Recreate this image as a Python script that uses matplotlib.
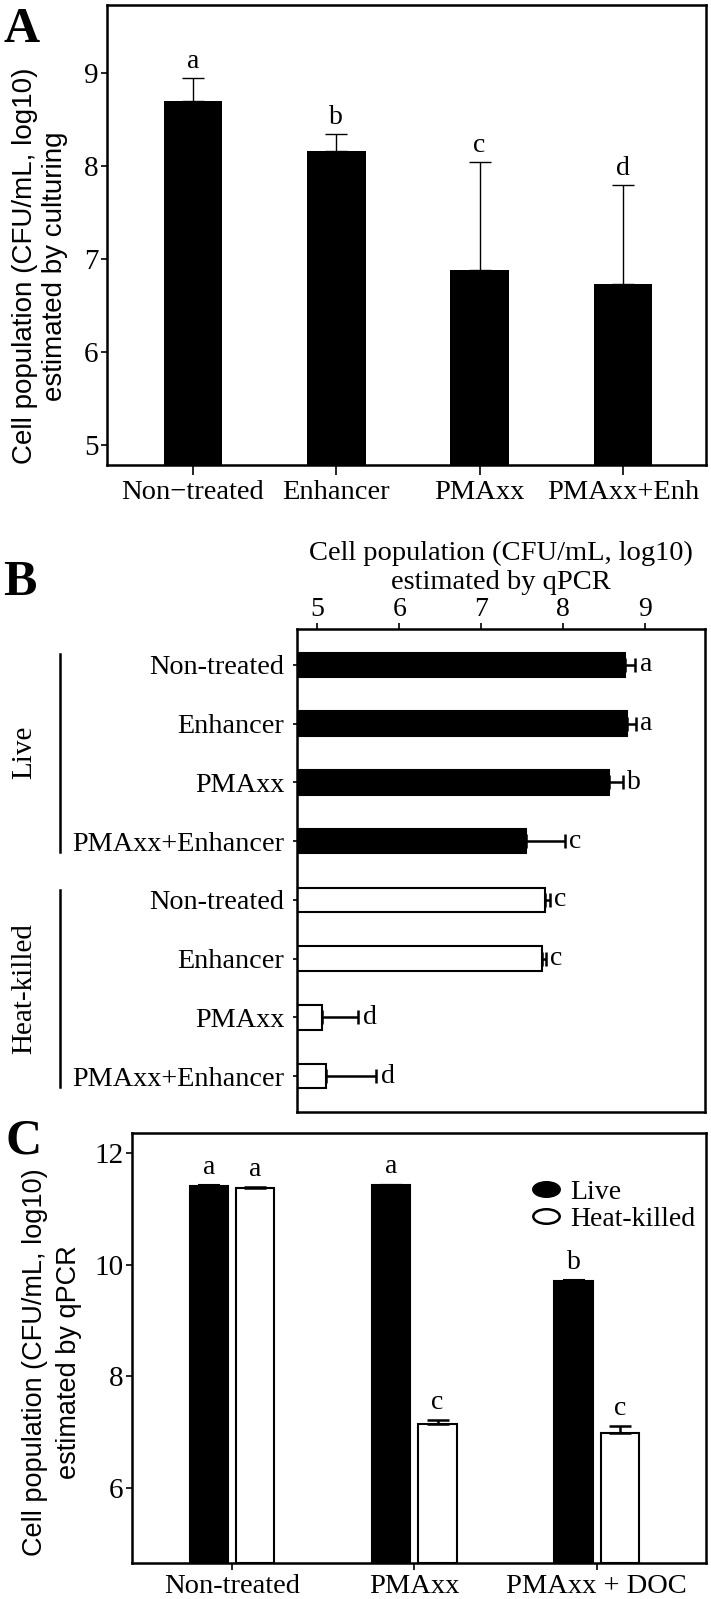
import numpy as np
import matplotlib.pyplot as plt
from matplotlib.path import Path
from matplotlib.transforms import Affine2D
from matplotlib.lines import Line2D

plt.rcParams['font.family'] = ['Liberation Serif', 'DejaVu Serif']
plt.rcParams['axes.linewidth'] = 1.8

# ---- panel A data
cats_a = ["Non\u2212treated", "Enhancer", "PMAxx", "PMAxx+Enh"]
mean_a = [8.70, 8.16, 6.88, 6.73]
err_a = [0.24, 0.18, 1.16, 1.06]
letters_a = ["a", "b", "c", "d"]

# ---- panel B data
cats_b = ["Non-treated", "Enhancer", "PMAxx", "PMAxx+Enhancer"]
live_b = [8.75, 8.78, 8.56, 7.54]
live_err_b = [0.13, 0.11, 0.17, 0.48]
hk_b = [7.78, 7.74, 5.05, 5.10]
hk_err_b = [0.06, 0.05, 0.45, 0.62]
letters_live_b = ["a", "a", "b", "c"]
letters_hk_b = ["c", "c", "d", "d"]

# ---- panel C data
groups_c = ["Non-treated", "PMAxx", "PMAxx + DOC"]
live_c = [11.41, 11.42, 9.71]
live_err_c = [0.01, 0.01, 0.01]
hk_c = [11.38, 7.15, 6.98]
hk_err_c = [0.01, 0.06, 0.12]
letters_live_c = ["a", "a", "b"]
letters_hk_c = ["a", "c", "c"]

W, H = 711, 1599
fig = plt.figure(figsize=(W / 100, H / 100), dpi=100)

def box(l, r, t, b):
    return [l / W, 1 - b / H, (r - l) / W, (b - t) / H]

sans = 'Liberation Sans'

# ================= A
axA = fig.add_axes(box(107, 706, 5, 465))
xa = np.arange(len(cats_a))
axA.bar(xa, np.array(mean_a) - 4.78, bottom=4.78, width=0.41, color='black', zorder=2)
axA.errorbar(xa, mean_a, yerr=[np.zeros(4), err_a], fmt='none', ecolor='black',
             elinewidth=1.0, capsize=8, capthick=1.0, zorder=1)
for x, m, e, l in zip(xa, mean_a, err_a, letters_a):
    axA.annotate(l, (x, m + e), xytext=(0, 3), textcoords='offset points',
                 ha='center', va='bottom', fontsize=20)
axA.set_ylim(4.78, 9.73)
axA.set_xlim(-0.6, 3.58)
axA.set_yticks([5, 6, 7, 8, 9])
axA.set_xticks(xa)
axA.set_xticklabels(cats_a)
axA.tick_params(axis='y', labelsize=21, length=4, width=1.2, pad=2)
axA.tick_params(axis='x', labelsize=20.5, length=7, width=1.2, pad=4)
fig.text(40 / W, 1 - 266 / H, "Cell population (CFU/mL, log10)\nestimated by culturing",
         rotation=90, ha='center', va='center', fontsize=20, family=sans,
         linespacing=1.2)
fig.text(4 / W, 1 - 30 / H, "A", fontsize=36, fontweight='bold', va='center', ha='left')

# ================= B
axB = fig.add_axes(box(297, 705, 629, 1112))
yb = np.arange(8)
vals_b = live_b + hk_b
errs_b = live_err_b + hk_err_b
face_b = ['black'] * 4 + ['white'] * 4
axB.barh(yb, np.array(vals_b) - 4.75, left=4.75, height=0.42, color=face_b,
         edgecolor='black', linewidth=1.5, zorder=2)
axB.errorbar(vals_b, yb, xerr=[np.zeros(8), errs_b], fmt='none', ecolor='black',
             elinewidth=1.8, capsize=5, capthick=1.8, zorder=1)
for y, v, e, l in zip(yb, vals_b, errs_b, letters_live_b + letters_hk_b):
    axB.annotate(l, (v + e, y), xytext=(3, 0), textcoords='offset points',
                 ha='left', va='center', fontsize=20)
axB.set_xlim(4.75, 9.73)
axB.set_ylim(7.61, -0.61)
axB.set_xticks([5, 6, 7, 8, 9])
axB.set_yticks(yb)
axB.set_yticklabels(cats_b + cats_b)
axB.xaxis.tick_top()
axB.xaxis.set_label_position('top')
axB.tick_params(axis='x', labelsize=20, length=4, width=1.2, pad=1)
axB.tick_params(axis='y', labelsize=20.3, length=3, width=1.2, pad=6)
axB.set_xlabel("Cell population (CFU/mL, log10)\nestimated by qPCR", fontsize=20.5,
               labelpad=6, linespacing=1.2)
# group brackets
trB = axB.get_yaxis_transform()
for y0, y1, name in [(-0.19, 3.18, "Live"), (3.83, 7.19, "Heat-killed")]:
    axB.add_line(Line2D([-0.582, -0.582], [y0, y1], transform=trB, color='black',
                        linewidth=1.8, clip_on=False))
    axB.text(-0.668, (y0 + y1) / 2, name, transform=trB, rotation=90,
             ha='center', va='center', fontsize=21)
fig.text(3 / W, 1 - 583 / H, "B", fontsize=36, fontweight='bold', va='center', ha='left')

# ================= C
axC = fig.add_axes(box(132, 706, 1133, 1563))
xc = np.arange(len(groups_c))
off, bw = 0.127, 0.21
base = 4.65
axC.bar(xc - off, np.array(live_c) - base, bottom=base, width=bw, color='black',
        edgecolor='black', linewidth=1.5, zorder=2)
axC.bar(xc + off, np.array(hk_c) - base, bottom=base, width=bw, color='white',
        edgecolor='black', linewidth=1.5, zorder=2)
axC.errorbar(xc - off, live_c, yerr=[np.zeros(3), live_err_c], fmt='none',
             ecolor='black', elinewidth=1.5, capsize=8, capthick=1.5, zorder=3)
axC.errorbar(xc + off, hk_c, yerr=[np.zeros(3), hk_err_c], fmt='none',
             ecolor='black', elinewidth=1.8, capsize=8, capthick=1.8, zorder=3)
for x, v, e, l in zip(xc - off, live_c, live_err_c, letters_live_c):
    axC.annotate(l, (x, v + e), xytext=(0, 4), textcoords='offset points',
                 ha='center', va='bottom', fontsize=20)
for x, v, e, l in zip(xc + off, hk_c, hk_err_c, letters_hk_c):
    axC.annotate(l, (x, v + e), xytext=(0, 4), textcoords='offset points',
                 ha='center', va='bottom', fontsize=20)
axC.set_xlim(-0.55, 2.60)
axC.set_ylim(base, 12.36)
axC.set_yticks([6, 8, 10, 12])
axC.set_xticks(xc)
axC.set_xticklabels(groups_c)
axC.tick_params(axis='y', labelsize=21, length=4, width=1.2, pad=2)
axC.tick_params(axis='x', labelsize=20.5, length=5, width=1.2, pad=3)
fig.text(52 / W, 1 - 1362 / H, "Cell population (CFU/mL, log10)\nestimated by qPCR",
         rotation=90, ha='center', va='center', fontsize=19.5, family=sans,
         linespacing=1.4)
ellipse = Path(Affine2D().scale(1, 0.55).transform(Path.unit_circle().vertices),
               Path.unit_circle().codes)
handles = [Line2D([], [], linestyle='none', marker=ellipse, markersize=19,
                  markerfacecolor='black', markeredgecolor='black', markeredgewidth=1.8),
           Line2D([], [], linestyle='none', marker=ellipse, markersize=19,
                  markerfacecolor='white', markeredgecolor='black', markeredgewidth=1.8)]
axC.legend(handles, ["Live", "Heat-killed"], loc='upper right', frameon=False,
           fontsize=20, handlelength=1.0, handletextpad=0.35, labelspacing=0.05,
           bbox_to_anchor=(1.0, 0.918), borderaxespad=0)
fig.text(5 / W, 1 - 1142 / H, "C", fontsize=36, fontweight='bold', va='center', ha='left')

fig.savefig("out.png", dpi=100)
